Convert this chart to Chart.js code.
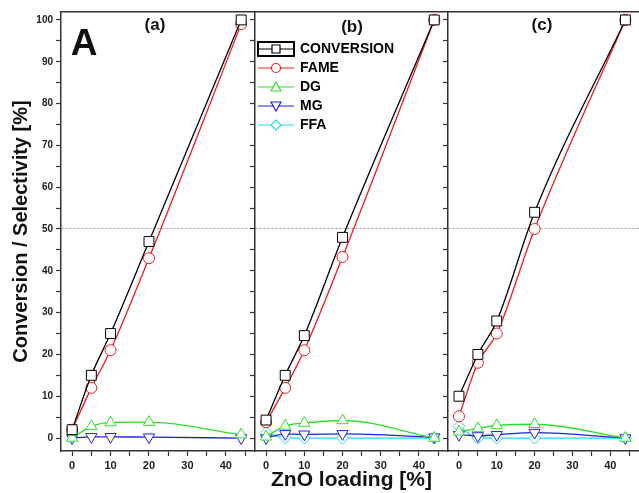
<!DOCTYPE html>
<html>
<head>
<meta charset="utf-8">
<script src="https://cdn.jsdelivr.net/npm/chart.js@4/dist/chart.umd.min.js"></script>
<style>
  body { margin: 0; background: #fff; }
  #wrap { position: relative; width: 639px; height: 493px; overflow: hidden;
          font-family: "Liberation Sans", Arial, sans-serif; font-weight: bold; color: #111; }
  #wrap canvas { position: absolute; top: 0; }
  .lbl { position: absolute; line-height: 1; transform: translate(-50%, -50%); white-space: nowrap; }
</style>
</head>
<body>
<div id="wrap">
  <canvas id="panelA" width="255" height="493" style="left:0"></canvas>
  <canvas id="panelB" width="198" height="493" style="left:250px"></canvas>
  <canvas id="panelC" width="196" height="493" style="left:443px"></canvas>
  <div class="lbl" style="left:84px;top:42px;font-size:37px">A</div>
  <div class="lbl" style="left:155px;top:24px;font-size:17px">(a)</div>
  <div class="lbl" style="left:352px;top:26px;font-size:17px">(b)</div>
  <div class="lbl" style="left:542px;top:24px;font-size:17px">(c)</div>
</div>
<script>
// ZnO loading (x) shared by all three panels
const loading = [0, 5, 10, 20, 44];
const seriesNames = ['CONVERSION', 'FAME', 'DG', 'MG', 'FFA'];

// tick positions (labels only on multiples of 10)
const xTickValues = [0, 5, 10, 15, 20, 25, 30, 35, 40, 45];
const yTickValues = [0, 5, 10, 15, 20, 25, 30, 35, 40, 45, 50, 55, 60, 65, 70, 75, 80, 85, 90, 95, 100];

// panel (a)
const conversionA = [2, 15, 25, 47, 100];
const fameA = [2, 12, 21, 43, 99];
const dgA = [0, 2.8, 3.7, 3.8, 0.8];
const mgA = [0, 0.3, 0.3, 0.2, 0];

// panel (b)
const conversionB = [4.3, 15, 24.5, 48, 100];
const fameB = [3.8, 12, 21, 43.3, 100];
const dgB = [0.3, 2.9, 3.6, 4.2, 0];
const mgB = [0, 1, 0.9, 1, 0.2];
const ffaB = [1.3, 0.1, 0, 0, 0];

// panel (c)
const conversionC = [10, 20, 28, 54, 100];
const fameC = [5.2, 18, 25, 50, 100];
const dgC = [1.5, 2.3, 3, 3.3, 0];
const mgC = [0.8, 0.5, 0.8, 1.3, 0];
const ffaC = [2.8, 0, 0, 0, 0];

const colors = ['#000000', '#ee1c1c', '#2ede2e', '#2323dd', '#22dde6'];
const markers = ['rect', 'circle', 'triangle', 'triangle', 'rectRot'];
const rotations = [0, 0, 0, 180, 0];
const radii = [7, 5.5, 6.5, 6.5, 6];

const FONT = '"Liberation Sans", Arial, sans-serif';
const AXIS = '#333';

// small line+marker picture used by the legend
function legendSample(i) {
  const c = document.createElement('canvas');
  c.width = 39; c.height = 16;
  const g = c.getContext('2d');
  g.strokeStyle = colors[i]; g.lineWidth = 1.2;
  g.beginPath(); g.moveTo(1, 8); g.lineTo(37, 8); g.stroke();
  g.fillStyle = '#fff';
  g.beginPath();
  const cx = 19, cy = 8;
  if (markers[i] === 'rect') g.rect(cx - 4, cy - 4, 8, 8);
  else if (markers[i] === 'circle') g.arc(cx, cy, 4.5, 0, Math.PI * 2);
  else if (markers[i] === 'rectRot') { g.moveTo(cx, cy - 5); g.lineTo(cx + 5, cy); g.lineTo(cx, cy + 5); g.lineTo(cx - 5, cy); g.closePath(); }
  else if (rotations[i] === 0) { g.moveTo(cx, cy - 5); g.lineTo(cx + 5, cy + 4); g.lineTo(cx - 5, cy + 4); g.closePath(); }
  else { g.moveTo(cx, cy + 5); g.lineTo(cx + 5, cy - 4); g.lineTo(cx - 5, cy - 4); g.closePath(); }
  g.fill(); g.stroke();
  if (i === 0) { g.strokeStyle = '#000'; g.lineWidth = 2; g.strokeRect(1, 1, 36, 14); }
  return c;
}

function makeSets(values) {
  return values.map((vals, i) => vals && {
    label: seriesNames[i],
    data: loading.map((x, k) => ({ x: x, y: vals[k] })),
    xAxisID: 'x',
    borderColor: colors[i],
    backgroundColor: '#fff',
    borderWidth: 1.3,
    pointStyle: markers[i],
    rotation: rotations[i],
    pointRadius: radii[i],
    pointBorderWidth: 1,
    cubicInterpolationMode: 'monotone'
  }).filter(Boolean);
}

function makePanel(id, values, opt) {
  const tickCb = v => (v % 10 === 0 ? v : '');
  return new Chart(document.getElementById(id), {
    type: 'line',
    data: { datasets: makeSets(values) },
    options: {
      responsive: false,
      animation: false,
      devicePixelRatio: 1,
      layout: { padding: 0, autoPadding: false },
      plugins: {
        tooltip: { enabled: false },
        legend: {
          display: !!opt.legend,
          position: 'chartArea',
          align: 'start',
          title: { display: true, text: '', font: { size: 10, lineHeight: 1 }, padding: { top: 27, bottom: 0 } },
          labels: {
            usePointStyle: true,
            pointStyleWidth: 33,
            padding: 5,
            color: '#000',
            font: { family: FONT, size: 14, weight: 'bold' },
            generateLabels: chart => chart.data.datasets.map((ds, i) => ({
              text: ds.label, pointStyle: legendSample(i), lineWidth: 0, fontColor: '#000',
              fillStyle: '#fff', strokeStyle: ds.borderColor, hidden: false, datasetIndex: i
            }))
          }
        }
      },
      scales: {
        x: {
          type: 'linear', position: 'bottom', min: -2.9, max: 47.6,
          afterBuildTicks: s => { s.ticks = xTickValues.map(v => ({ value: v })); },
          ticks: { autoSkip: false, maxRotation: 0, padding: 3,
                   callback: tickCb, color: '#222', font: { family: FONT, size: 11, weight: 'bold' } },
          grid: { drawOnChartArea: false, tickLength: 5, tickColor: AXIS, tickWidth: 1.2 },
          border: { color: AXIS, width: 1.5 },
          title: { display: !!opt.xTitle, text: 'ZnO loading [%]', color: '#111',
                   font: { family: FONT, size: 21, weight: 'bold' }, padding: { top: 0, bottom: 0 } },
          afterFit: s => { s.height = 42; }
        },
        xTop: {
          type: 'linear', axis: 'x', position: 'top', min: -2.9, max: 47.6,
          ticks: { display: false },
          grid: { drawOnChartArea: false, drawTicks: false },
          border: { color: AXIS, width: 1.5 },
          afterFit: s => { s.height = 12; }
        },
        y: {
          type: 'linear', min: -3.1, max: 101.9,
          afterBuildTicks: s => { s.ticks = yTickValues.map(v => ({ value: v })); },
          ticks: { display: !!opt.yLabels, autoSkip: false, padding: 3,
                   callback: tickCb, color: '#222', font: { family: FONT, size: 10, weight: 'bold' } },
          grid: {
            color: c => (c.tick && c.tick.value === 50 ? '#777' : 'transparent'),
            lineWidth: 0.8, tickLength: 5, tickColor: AXIS, tickWidth: 1.2
          },
          border: { color: AXIS, width: 1.5, dash: [2, 2] },
          title: { display: !!opt.yLabels, text: 'Conversion / Selectivity [%]', color: '#111',
                   font: { family: FONT, size: 20, weight: 'bold' }, padding: { top: 9, bottom: 0 } },
          afterFit: s => { s.width = opt.yWidth; }
        }
      }
    }
  });
}

makePanel('panelA', [conversionA, fameA, dgA, mgA, null], { yLabels: true, yWidth: 61 });
makePanel('panelB', [conversionB, fameB, dgB, mgB, ffaB], { legend: true, xTitle: true, yWidth: 5 });
makePanel('panelC', [conversionC, fameC, dgC, mgC, ffaC], { yWidth: 5 });
</script>
</body>
</html>
